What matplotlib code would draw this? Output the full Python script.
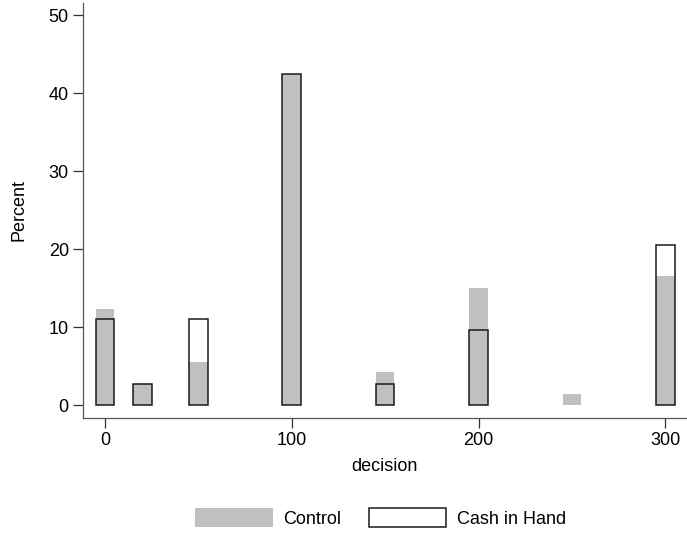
import numpy as np
import matplotlib
matplotlib.use("Agg")
import matplotlib.pyplot as plt
from matplotlib.patches import Patch

plt.rcParams['font.family'] = ['Liberation Sans', 'DejaVu Sans']

decision = [0, 20, 50, 100, 150, 200, 250, 300]
control = [12.4, 2.7, 5.6, 42.5, 4.2, 15.1, 1.5, 16.6]
cash = [11.0, 2.7, 11.0, 42.5, 2.7, 9.6, 0.0, 20.6]
bin_width = 10

fig = plt.figure(figsize=(6.87, 5.37), dpi=100)
ax = fig.add_axes([0.1204, 0.2222, 0.8796, 0.7722])

x = np.array(decision)
ax.bar(x, control, width=bin_width, color='#c0c0c0', edgecolor='none', zorder=2)
mask = np.array(cash) > 0
ax.bar(x[mask], np.array(cash)[mask], width=bin_width, facecolor='none',
       edgecolor='#1a1a1a', linewidth=1.1, zorder=3)

ax.set_xlim(-11.9, 311.6)
ax.set_ylim(-1.6, 51.6)
ax.set_xticks([0, 100, 200, 300])
ax.set_yticks([0, 10, 20, 30, 40, 50])
ax.tick_params(direction='out', length=7, width=0.9, color='#333333',
               labelsize=13, pad=3)
for s in ['top', 'right']:
    ax.spines[s].set_visible(False)
for s in ['left', 'bottom']:
    ax.spines[s].set_color('#555555')
    ax.spines[s].set_linewidth(0.9)

ax.set_xlabel('decision', fontsize=13, labelpad=7)
ax.set_ylabel('Percent', fontsize=13, labelpad=15)

handles = [Patch(facecolor='#c0c0c0', edgecolor='none', label='Control'),
           Patch(facecolor='white', edgecolor='#1a1a1a', linewidth=1.1,
                 label='Cash in Hand')]
fig.legend(handles=handles, loc='center', bbox_to_anchor=(0.554, 0.0354),
           ncol=2, frameon=False, fontsize=13, handlelength=4.3,
           handleheight=1.17, handletextpad=0.6, columnspacing=1.5)

fig.savefig('out.png', dpi=100)
